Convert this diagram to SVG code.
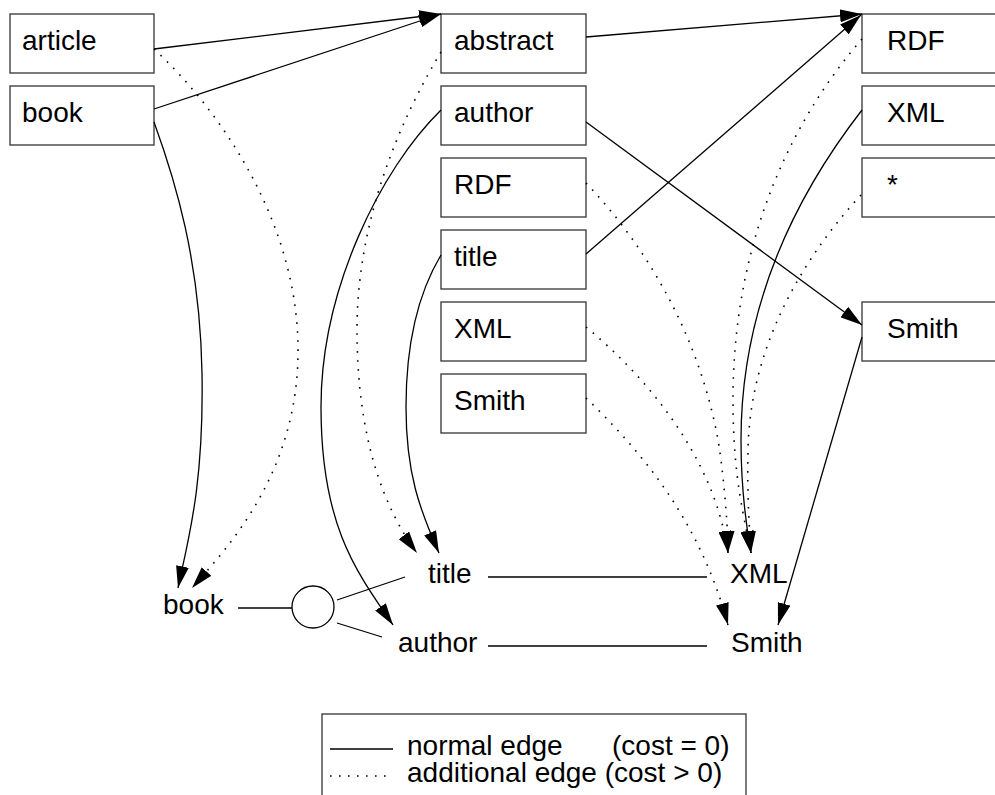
<svg xmlns="http://www.w3.org/2000/svg" width="995" height="795" viewBox="0 0 995 795">
<defs>
<marker id="ah" markerUnits="userSpaceOnUse" viewBox="0 0 22 13" markerWidth="22" markerHeight="13" refX="22" refY="6.5" orient="auto">
<path d="M0,0 L22,6.5 L0,13 z" fill="#000" stroke="none"/>
</marker>
<style>
.box{fill:#fff;stroke:#333;stroke-width:1.3}
.t{font-family:"Liberation Sans",Arial,sans-serif;font-size:28px;fill:#000}
.e{fill:none;stroke:#000;stroke-width:1.3}
.a{marker-end:url(#ah)}
.d{fill:none;stroke:#000;stroke-width:1.6;stroke-dasharray:1.6 7.4}
</style>
</defs>
<rect width="995" height="795" fill="#fff"/>

<g id="n-article"><rect class="box" x="10" y="14" width="144" height="59"/><text class="t" x="22" y="50">article</text></g>
<g id="n-book"><rect class="box" x="10" y="86" width="144" height="59"/><text class="t" x="22" y="122">book</text></g>

<g id="n-abstract"><rect class="box" x="441" y="14" width="145" height="59"/><text class="t" x="454" y="50">abstract</text></g>
<g id="n-author"><rect class="box" x="441" y="86" width="145" height="59"/><text class="t" x="454" y="122">author</text></g>
<g id="n-rdf"><rect class="box" x="441" y="158" width="145" height="59"/><text class="t" x="454" y="194">RDF</text></g>
<g id="n-title"><rect class="box" x="441" y="230" width="145" height="59"/><text class="t" x="454" y="266">title</text></g>
<g id="n-xml"><rect class="box" x="441" y="302" width="145" height="59"/><text class="t" x="454" y="338">XML</text></g>
<g id="n-smith"><rect class="box" x="441" y="374" width="145" height="59"/><text class="t" x="454" y="410">Smith</text></g>

<g id="n-rdf2"><rect class="box" x="862" y="14" width="145" height="59"/><text class="t" x="887" y="50">RDF</text></g>
<g id="n-xml2"><rect class="box" x="862" y="86" width="145" height="59"/><text class="t" x="887" y="122">XML</text></g>
<g id="n-star"><rect class="box" x="862" y="158" width="145" height="59"/><text class="t" x="887" y="194">*</text></g>
<g id="n-smith2"><rect class="box" x="862" y="302" width="145" height="59"/><text class="t" x="887" y="338">Smith</text></g>

<g id="q-book"><text class="t" x="163" y="614">book</text></g>
<g id="q-and"><circle cx="313" cy="607" r="21" fill="#fff" stroke="#000" stroke-width="1.3"/></g>
<g id="q-title"><text class="t" x="428" y="583">title</text></g>
<g id="q-author"><text class="t" x="398" y="652">author</text></g>
<g id="q-xml"><text class="t" x="730" y="583">XML</text></g>
<g id="q-smith"><text class="t" x="731" y="652">Smith</text></g>

<g id="connectors">
<line class="e" x1="238" y1="608" x2="292" y2="608"/>
<line class="e" x1="337" y1="600" x2="405" y2="577"/>
<line class="e" x1="337" y1="623" x2="382" y2="637"/>
<line class="e" x1="488" y1="577" x2="707" y2="577"/>
<line class="e" x1="488" y1="646" x2="707" y2="646"/>

<path class="e a" d="M154,49 L441,14"/>
<path class="e a" d="M154,109 L441,14"/>
<path class="e a" d="M586,37 L862,14"/>
<path class="e a" d="M586,254 L861,15"/>
<path class="e a" d="M586,122 L862,325"/>
<path class="e a" d="M862,337 L778,625"/>

<path class="e a" d="M154,122 C175,180 200,260 202,373 S188,540 178,588"/>
<path class="e a" d="M441,110 C380,170 321,290 321,407 S355,570 393,625"/>
<path class="e a" d="M441,255 C420,290 406,340 406,407 S420,510 439,553"/>
<path class="e a" d="M862,110 C800,190 741,300 741,440 C741,490 746,525 751,553"/>

<path class="d a" d="M154,49 C220,110 296,220 298,345 S230,545 192,588"/>
<path class="d a" d="M441,52 C400,120 357,220 357,330 S385,510 417,553"/>
<path class="d a" d="M586,183 C650,250 700,340 718,440 C722,462 728,520 728,553"/>
<path class="d a" d="M586,327 C650,380 715,460 728,553"/>
<path class="d a" d="M586,398 C640,450 700,520 728,625"/>
<path class="d a" d="M862,39 C800,110 733,230 733,400 C733,480 745,520 751,553"/>
<path class="d a" d="M861,195 C810,250 750,340 748,450 C747,490 749,525 751,553"/>
</g>

<g id="legend">
<rect x="322" y="714" width="424" height="100" fill="#fff" stroke="#333" stroke-width="1.3"/>
<line class="e" x1="330" y1="749" x2="393" y2="749"/>
<line class="d" x1="330" y1="776" x2="393" y2="776"/>
<text class="t" x="407" y="755">normal edge</text>
<text class="t" x="612" y="755">(cost = 0)</text>
<text class="t" x="407" y="782">additional edge (cost &gt; 0)</text>
</g>
</svg>
